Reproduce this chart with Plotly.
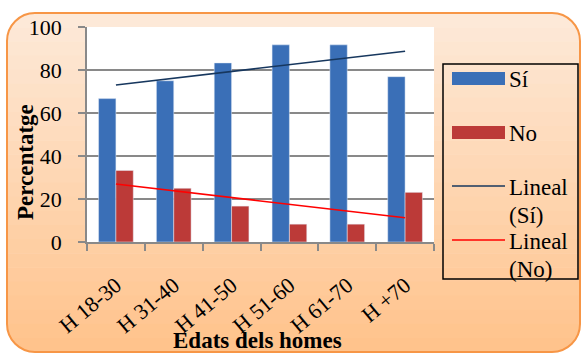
"""Recreate the 'Edats dels homes' grouped bar chart with linear trendlines."""

import numpy as np
import plotly.graph_objects as go

CATEGORIES = ["H 18-30", "H 31-40", "H 41-50", "H 51-60", "H 61-70", "H +70"]
SI_VALUES = [66.7, 75.0, 83.3, 91.7, 91.7, 76.9]
NO_VALUES = [33.3, 25.0, 16.7, 8.3, 8.3, 23.1]
Y_TICKS = [0, 20, 40, 60, 80, 100]

W, H = 582, 354
PLOT_L, PLOT_R, PLOT_T, PLOT_B = 87, 434, 27, 242

BLUE = "#3A6FB7"
RED = "#BC3A38"
NAVY = "#17375E"
TREND_RED = "#FF0000"
GRID = "#898989"
FONT = "Liberation Serif"


def px(x):
    return (x - PLOT_L) / (PLOT_R - PLOT_L)


def py(y):
    return (PLOT_B - y) / (PLOT_B - PLOT_T)


def trend(values):
    xs = np.arange(len(values))
    slope, intercept = np.polyfit(xs, values, 1)
    return list(slope * xs + intercept)


def hex_mix(c1, c2, t):
    a = [int(c1[i:i + 2], 16) for i in (1, 3, 5)]
    b = [int(c2[i:i + 2], 16) for i in (1, 3, 5)]
    return "#" + "".join(f"{round(u + (v - u) * t):02x}" for u, v in zip(a, b))


def background_shapes():
    shapes = []
    x0, x1, y0, y1, r = 7, 580, 13, 352, 28
    n = 24
    for i in range(n):
        ya = y0 + (y1 - y0) * i / n
        yb = y0 + (y1 - y0) * (i + 1) / n + 0.6
        shapes.append(dict(type="rect", xref="paper", yref="paper", layer="below",
                           x0=px(x0), x1=px(x1), y0=py(ya), y1=py(yb),
                           fillcolor=hex_mix("#FDE9D8", "#FFC38C", i / (n - 1)),
                           line=dict(width=0)))
    k = 0.5523 * r
    # white masks outside each rounded corner
    corners = [
        (x0, y0, 1, 1), (x1, y0, -1, 1), (x0, y1, 1, -1), (x1, y1, -1, -1),
    ]
    for cx, cy, sx, sy in corners:
        path = f"M{px(cx - sx * 2)},{py(cy - sy * 2)} L{px(cx + sx * r)},{py(cy - sy * 2)} "
        path += f"L{px(cx + sx * r)},{py(cy)} "
        path += (f"C{px(cx + sx * (r - k))},{py(cy)} {px(cx)},{py(cy + sy * (r - k))} "
                 f"{px(cx)},{py(cy + sy * r)} ")
        path += f"L{px(cx - sx * 2)},{py(cy + sy * r)} Z"
        shapes.append(dict(type="path", xref="paper", yref="paper", layer="below",
                           path=path, fillcolor="white", line=dict(width=0)))
    # orange rounded border
    border = (
        f"M{px(x0 + r)},{py(y0)} L{px(x1 - r)},{py(y0)} "
        f"C{px(x1 - r + k)},{py(y0)} {px(x1)},{py(y0 + r - k)} {px(x1)},{py(y0 + r)} "
        f"L{px(x1)},{py(y1 - r)} "
        f"C{px(x1)},{py(y1 - r + k)} {px(x1 - r + k)},{py(y1)} {px(x1 - r)},{py(y1)} "
        f"L{px(x0 + r)},{py(y1)} "
        f"C{px(x0 + r - k)},{py(y1)} {px(x0)},{py(y1 - r + k)} {px(x0)},{py(y1 - r)} "
        f"L{px(x0)},{py(y0 + r)} "
        f"C{px(x0)},{py(y0 + r - k)} {px(x0 + r - k)},{py(y0)} {px(x0 + r)},{py(y0)} Z"
    )
    shapes.append(dict(type="path", xref="paper", yref="paper", layer="below",
                       path=border, line=dict(color="#F79646", width=2)))
    # white plot area
    shapes.append(dict(type="rect", xref="paper", yref="paper", layer="below",
                       x0=0, x1=1, y0=0, y1=1, fillcolor="white", line=dict(width=0)))
    return shapes


def legend_items():
    shapes = [dict(type="rect", xref="paper", yref="paper",
                   x0=px(443), x1=px(578), y0=py(64), y1=py(279),
                   line=dict(color="black", width=1.5))]
    shapes.append(dict(type="rect", xref="paper", yref="paper",
                       x0=px(452), x1=px(505), y0=py(72), y1=py(85),
                       fillcolor=BLUE, line=dict(width=0)))
    shapes.append(dict(type="rect", xref="paper", yref="paper",
                       x0=px(452), x1=px(505), y0=py(126), y1=py(139),
                       fillcolor=RED, line=dict(width=0)))
    shapes.append(dict(type="line", xref="paper", yref="paper",
                       x0=px(452), x1=px(505), y0=py(186), y1=py(186),
                       line=dict(color=NAVY, width=1.5)))
    shapes.append(dict(type="line", xref="paper", yref="paper",
                       x0=px(452), x1=px(505), y0=py(240), y1=py(240),
                       line=dict(color=TREND_RED, width=1.5)))
    labels = [("Sí", 79), ("No", 133), ("Lineal", 187), ("(Sí)", 215),
              ("Lineal", 241), ("(No)", 269)]
    annotations = [dict(text=t, xref="paper", yref="paper", x=px(507), y=py(y),
                        xanchor="left", yanchor="middle", showarrow=False,
                        font=dict(family=FONT, size=23, color="black"))
                   for t, y in labels]
    return shapes, annotations


fig = go.Figure()
fig.add_trace(go.Bar(x=CATEGORIES, y=SI_VALUES, name="Sí", marker_color=BLUE))
fig.add_trace(go.Bar(x=CATEGORIES, y=NO_VALUES, name="No", marker_color=RED))
fig.add_trace(go.Scatter(x=CATEGORIES, y=trend(SI_VALUES), mode="lines",
                         name="Lineal (Sí)", line=dict(color=NAVY, width=1.5)))
fig.add_trace(go.Scatter(x=CATEGORIES, y=trend(NO_VALUES), mode="lines",
                         name="Lineal (No)", line=dict(color=TREND_RED, width=1.5)))

leg_shapes, leg_annotations = legend_items()
titles = [
    dict(text="<b>Percentatge</b>", xref="paper", yref="paper", x=px(25), y=py(162),
         textangle=-90, showarrow=False, xanchor="center", yanchor="middle",
         font=dict(family=FONT, size=23, color="black")),
    dict(text="<b>Edats dels homes</b>", xref="paper", yref="paper", x=px(257), y=py(340),
         showarrow=False, xanchor="center", yanchor="middle",
         font=dict(family=FONT, size=23, color="black")),
]

fig.update_layout(
    width=W, height=H,
    margin=dict(l=PLOT_L, r=W - PLOT_R, t=PLOT_T, b=H - PLOT_B, autoexpand=False),
    paper_bgcolor="white",
    plot_bgcolor="rgba(0,0,0,0)",
    barmode="group",
    bargap=0.4,
    bargroupgap=0,
    showlegend=False,
    font=dict(family=FONT, size=22, color="black"),
    shapes=background_shapes() + leg_shapes,
    annotations=titles + leg_annotations,
    xaxis=dict(
        type="category", tickangle=-40, showgrid=False, automargin=False,
        showline=True, linecolor=GRID, linewidth=1.5,
        ticks="outside", tickson="boundaries", ticklen=7, tickcolor=GRID, tickwidth=1.5,
        ticklabelstandoff=20, tickfont=dict(size=22),
    ),
    yaxis=dict(
        range=[0, 100], tickvals=Y_TICKS, showgrid=True, gridcolor=GRID, gridwidth=1.5,
        showline=True, linecolor=GRID, linewidth=1.5, zeroline=False, automargin=False,
        ticks="outside", ticklen=7, tickcolor=GRID, tickwidth=1.5,
        ticklabelstandoff=12, tickfont=dict(size=22),
    ),
)

fig.write_html("out.html", config={"displayModeBar": False},
               post_script="document.body.style.margin = '0';")
